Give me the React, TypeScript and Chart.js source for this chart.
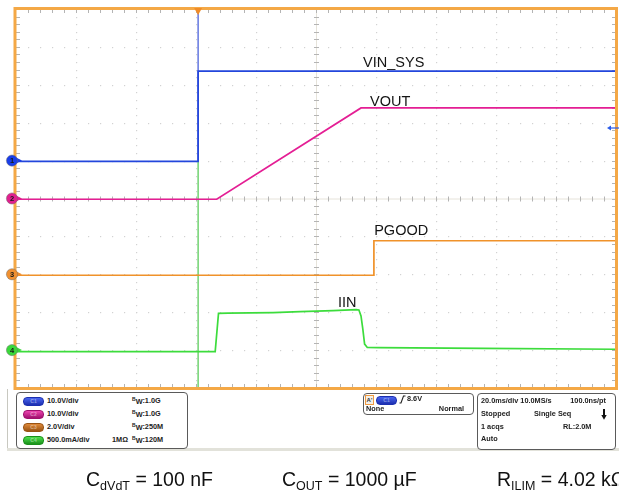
import React, { useEffect, useRef } from 'react';
import { Chart, registerables } from 'chart.js';

Chart.register(...registerables);

// ---- time base: 20 ms/div, 10 divisions, trigger ~3 div from left ----
const T_MIN = -60.7; // ms
const T_MAX = 139.3; // ms
const Y_MIN = -5; // divisions
const Y_MAX = 5;

// ---- channel settings (V/div or A/div, ground offset in divisions) ----
const channelScale = [10, 10, 2, 0.5];
const channelOffset = [1, 0, -2, -4];
const channelColor = ['#2346dc', '#e41e94', '#f0922a', '#3cdc3c'];
const markerColor = ['#1a3ee8', '#e0208e', '#f09030', '#3ad83a'];

// ---- CH1 VIN_SYS (V) ----
const vinSysT = [-60.7, -30, 0, 0, 60, 139.3];
const vinSysV = [-0.2, -0.2, -0.2, 23.6, 23.6, 23.6];

// ---- CH2 VOUT (V) ----
const voutT = [-60.7, 6.2, 54.3, 139.3];
const voutV = [-0.2, -0.2, 23.9, 23.9];

// ---- CH3 PGOOD (V) ----
const pgoodT = [-60.7, 58.6, 58.6, 139.3];
const pgoodV = [-0.05, -0.05, 1.77, 1.77];

// ---- CH4 IIN (A) ----
const iinT = [-60.7, 5.7, 6.8, 10, 25, 34, 45, 52.7, 53.6, 54.3, 54.9, 55.5, 56.4, 60, 95, 139.3];
const iinA = [-0.021, -0.021, 0.485, 0.488, 0.495, 0.507, 0.522, 0.535, 0.53, 0.45, 0.28, 0.08, 0.035, 0.032, 0.024, 0.011];

// trigger: C1 rising, 8.6 V, at t = 0
const triggerTime = 0;
const triggerLevel = 8.6;

// trace labels
const traceLabels = ['VIN_SYS', 'VOUT', 'PGOOD', 'IIN'];
const labelOpts = {
  t: [55, 57.3, 58.7, 46.6],
  yDiv: [3.478, 2.44, -0.976, -2.856],
};

const toDiv = (v: number, ch: number) => v / channelScale[ch] + channelOffset[ch];

const series = [
  { t: vinSysT, v: vinSysV, ch: 0 },
  { t: voutT, v: voutV, ch: 1 },
  { t: pgoodT, v: pgoodV, ch: 2 },
  { t: iinT, v: iinA, ch: 3 },
];

const scopePlugin = {
  id: 'scope',
  beforeDatasetsDraw(chart: any) {
    const { ctx, chartArea: a } = chart;
    const dx = (a.right - a.left) / 10;
    const dy = (a.bottom - a.top) / 10;
    ctx.save();
    // dotted graticule
    ctx.fillStyle = '#d2d2d2';
    for (let i = 1; i < 10; i++) {
      const y = a.top + i * dy;
      for (let j = 1; j < 50; j++) {
        const x = a.left + (j * dx) / 5;
        ctx.fillRect(Math.round(x), Math.round(y), 1.2, 1.2);
      }
      const x = a.left + i * dx;
      for (let j = 1; j < 50; j++) {
        const yy = a.top + (j * dy) / 5;
        ctx.fillRect(Math.round(x), Math.round(yy), 1.2, 1.2);
      }
    }
    // center axes with ticks
    const cx = a.left + 5 * dx;
    const cy = a.top + 5 * dy;
    ctx.strokeStyle = '#e6e3da';
    ctx.lineWidth = 1;
    ctx.beginPath();
    ctx.moveTo(a.left, cy + 0.5);
    ctx.lineTo(a.right, cy + 0.5);
    ctx.moveTo(cx + 0.5, a.top);
    ctx.lineTo(cx + 0.5, a.bottom);
    ctx.stroke();
    ctx.strokeStyle = '#b4b4b4';
    ctx.beginPath();
    for (let j = 1; j < 50; j++) {
      const x = Math.round(a.left + (j * dx) / 5) + 0.5;
      ctx.moveTo(x, cy - 2);
      ctx.lineTo(x, cy + 3);
      ctx.moveTo(x, a.top);
      ctx.lineTo(x, a.top + 4);
      ctx.moveTo(x, a.bottom - 4);
      ctx.lineTo(x, a.bottom);
    }
    for (let j = 1; j < 50; j++) {
      const y = Math.round(a.top + (j * dy) / 5) + 0.5;
      ctx.moveTo(cx - 2, y);
      ctx.lineTo(cx + 3, y);
      ctx.moveTo(a.left, y);
      ctx.lineTo(a.left + 4, y);
      ctx.moveTo(a.right - 4, y);
      ctx.lineTo(a.right, y);
    }
    ctx.stroke();
    ctx.restore();
  },
  afterDatasetsDraw(chart: any) {
    const { ctx, chartArea: a, scales } = chart;
    const xs = scales.x;
    const ys = scales.y;
    ctx.save();
    // orange frame
    ctx.strokeStyle = '#f4a846';
    ctx.lineWidth = 3;
    ctx.strokeRect(a.left - 1, a.top - 0.5, a.right - a.left + 1.5, a.bottom - a.top + 1);

    // trigger position marker
    const tx = xs.getPixelForValue(triggerTime);
    ctx.fillStyle = '#f08c28';
    ctx.beginPath();
    ctx.moveTo(tx - 4, a.top - 1);
    ctx.lineTo(tx + 4, a.top - 1);
    ctx.lineTo(tx, a.top + 6);
    ctx.closePath();
    ctx.fill();

    // trigger level marker (right side)
    const ty = ys.getPixelForValue(toDiv(triggerLevel, 0));
    ctx.strokeStyle = '#2a5ae8';
    ctx.fillStyle = '#2a5ae8';
    ctx.lineWidth = 1.2;
    ctx.beginPath();
    ctx.moveTo(a.right - 7, ty);
    ctx.lineTo(a.right + 3, ty);
    ctx.stroke();
    ctx.beginPath();
    ctx.moveTo(a.right - 9, ty);
    ctx.lineTo(a.right - 5, ty - 2.5);
    ctx.lineTo(a.right - 5, ty + 2.5);
    ctx.closePath();
    ctx.fill();

    // channel ground markers
    for (let c = 0; c < 4; c++) {
      const y = ys.getPixelForValue(channelOffset[c]);
      const x = a.left - 4;
      ctx.fillStyle = markerColor[c];
      ctx.beginPath();
      ctx.moveTo(x + 4, y - 3);
      ctx.lineTo(x + 10, y);
      ctx.lineTo(x + 4, y + 3);
      ctx.closePath();
      ctx.fill();
      ctx.beginPath();
      ctx.arc(x, y, 5.6, 0, Math.PI * 2);
      ctx.fill();
      ctx.strokeStyle = 'rgba(110,110,110,0.6)';
      ctx.lineWidth = 0.8;
      ctx.stroke();
      ctx.fillStyle = '#1a1a1a';
      ctx.font = 'bold 7.5px "Liberation Sans", Arial, sans-serif';
      ctx.textAlign = 'center';
      ctx.textBaseline = 'middle';
      ctx.fillText(String(c + 1), x, y + 0.5);
    }

    // trace labels
    ctx.fillStyle = '#141414';
    ctx.font = '14.5px "Liberation Sans", Arial, sans-serif';
    ctx.textAlign = 'left';
    ctx.textBaseline = 'alphabetic';
    traceLabels.forEach((s, i) => {
      ctx.fillText(s, xs.getPixelForValue(labelOpts.t[i]), ys.getPixelForValue(labelOpts.yDiv[i]));
    });
    ctx.restore();
  },
};

const FONT = '"Liberation Sans", Arial, sans-serif';

const Txt = ({ x, yc, right, children, size = 7.3 }: any) => (
  <div
    style={{
      position: 'absolute',
      left: right === undefined ? x : undefined,
      right: right !== undefined ? 619 - right : undefined,
      top: yc - 5,
      lineHeight: '10px',
      fontSize: size,
      fontWeight: 'bold',
      color: '#222',
      whiteSpace: 'nowrap',
      fontFamily: FONT,
    }}
  >
    {children}
  </div>
);

const Badge = ({ x, yc, label, color, dark }: any) => (
  <div
    style={{
      position: 'absolute',
      left: x,
      top: yc - 4,
      width: 19,
      height: 7,
      borderRadius: 4,
      border: `1px solid ${dark}`,
      background: `linear-gradient(${color}, ${dark})`,
      color: 'rgba(255,255,255,0.45)',
      fontSize: 5,
      lineHeight: '7px',
      fontWeight: 'bold',
      textAlign: 'center',
      fontFamily: FONT,
    }}
  >
    {label}
  </div>
);

const BW = ({ x, yc, v }: any) => (
  <Txt x={x} yc={yc}>
    <span style={{ fontSize: 5, position: 'relative', top: -2 }}>B</span>
    <span style={{ position: 'relative', top: 1 }}>W</span>:{v}
  </Txt>
);

const chanRows = [
  { label: 'C1', color: '#4a66f0', dark: '#1c2fb0', scale: '10.0V/div', bw: '1.0G', imp: '' },
  { label: 'C2', color: '#ee44b0', dark: '#a0106e', scale: '10.0V/div', bw: '1.0G', imp: '' },
  { label: 'C3', color: '#e08a3a', dark: '#9a5414', scale: '2.0V/div', bw: '250M', imp: '' },
  { label: 'C4', color: '#4ee04e', dark: '#1a901a', scale: '500.0mA/div', bw: '120M', imp: '1MΩ' },
];

const Sub = ({ children }: any) => (
  <span style={{ fontSize: 12.5, position: 'relative', top: 4 }}>{children}</span>
);

const captions = [
  { main: 'C', sub: 'dVdT', rest: ' = 100 nF' },
  { main: 'C', sub: 'OUT', rest: ' = 1000 µF' },
  { main: 'R', sub: 'ILIM', rest: ' = 4.02 kΩ' },
];
const captionX = [86, 282, 497];

export default function App() {
  const ref = useRef<HTMLCanvasElement>(null);
  useEffect(() => {
    if (!ref.current) return;
    const datasets: any[] = series.map((s, i) => ({
      data: s.t.map((t, k) => ({ x: t, y: toDiv(s.v[k], s.ch) })),
      showLine: true,
      borderColor: channelColor[s.ch],
      borderWidth: 1.7,
      pointRadius: 0,
      order: i,
    }));
    datasets.push({
      data: [
        { x: triggerTime, y: Y_MIN },
        { x: triggerTime, y: channelOffset[0] },
      ],
      showLine: true,
      borderColor: '#4cc84c',
      borderWidth: 1.2,
      pointRadius: 0,
      order: 20,
    });
    datasets.push({
      data: [
        { x: triggerTime, y: channelOffset[0] },
        { x: triggerTime, y: Y_MAX },
      ],
      showLine: true,
      borderColor: '#3d55d8',
      borderWidth: 1.2,
      pointRadius: 0,
      order: 19,
    });
    const chart = new Chart(ref.current, {
      type: 'scatter',
      data: { datasets },
      options: {
        responsive: false,
        animation: false,
        devicePixelRatio: 1,
        layout: { padding: { left: 16, top: 9, right: 3, bottom: 112 } },
        plugins: { legend: { display: false }, tooltip: { enabled: false } },
        scales: {
          x: { type: 'linear', min: T_MIN, max: T_MAX, display: false },
          y: { type: 'linear', min: Y_MIN, max: Y_MAX, display: false },
        },
      },
      plugins: [scopePlugin],
    } as any);
    return () => chart.destroy();
  }, []);

  const rowY = [401, 414, 427, 440];

  return (
    <div
      style={{
        position: 'fixed',
        left: 0,
        top: 0,
        width: 619,
        height: 500,
        overflow: 'hidden',
        background: '#fff',
        fontFamily: FONT,
      }}
    >
      <canvas ref={ref} width={619} height={500} style={{ position: 'absolute', left: 0, top: 0 }} />

      {/* info panel frame */}
      <div style={{ position: 'absolute', left: 7, top: 389, width: 1, height: 62, background: '#c8c8c0' }} />
      <div style={{ position: 'absolute', left: 7, top: 448, width: 612, height: 3, background: '#e2e2da' }} />

      {/* channel box */}
      <div
        style={{
          position: 'absolute',
          left: 16,
          top: 392,
          width: 170,
          height: 55,
          border: '1px solid #5a5a5a',
          borderRadius: 4,
          background: '#fff',
        }}
      />
      {chanRows.map((r, i) => (
        <React.Fragment key={r.label}>
          <Badge x={23} yc={rowY[i]} label={r.label} color={r.color} dark={r.dark} />
          <Txt x={47} yc={rowY[i]}>{r.scale}</Txt>
          {r.imp ? <Txt x={112} yc={rowY[i]}>{r.imp}</Txt> : null}
          <BW x={132} yc={rowY[i]} v={r.bw} />
        </React.Fragment>
      ))}

      {/* trigger box */}
      <div
        style={{
          position: 'absolute',
          left: 363,
          top: 393,
          width: 109,
          height: 20,
          border: '1px solid #5a5a5a',
          borderRadius: 4,
          background: '#fff',
        }}
      />
      <div
        style={{
          position: 'absolute',
          left: 365,
          top: 395,
          width: 7,
          height: 8,
          border: '1px solid #f09a40',
          background: '#f4f0e8',
          fontSize: 6,
          lineHeight: '8px',
          fontWeight: 'bold',
          color: '#333',
          textAlign: 'center',
          fontFamily: FONT,
        }}
      >
        A'
      </div>
      <Badge x={376} yc={399.5} label="C1" color="#4a66f0" dark="#1c2fb0" />
      <svg style={{ position: 'absolute', left: 399, top: 395 }} width={7} height={9}>
        <path d="M0.5 8 L2 8 L4.5 1 L6.5 1" stroke="#222" strokeWidth={1.1} fill="none" />
      </svg>
      <Txt x={407} yc={399}>8.6V</Txt>
      <Txt x={366} yc={408.5}>None</Txt>
      <Txt right={464} yc={408.5}>Normal</Txt>

      {/* timebase box */}
      <div
        style={{
          position: 'absolute',
          left: 477,
          top: 393,
          width: 137,
          height: 55,
          border: '1px solid #5a5a5a',
          borderRadius: 4,
          background: '#fff',
        }}
      />
      <Txt x={481} yc={401}>20.0ms/div 10.0MS/s</Txt>
      <Txt right={606} yc={401}>100.0ns/pt</Txt>
      <Txt x={481} yc={414}>Stopped</Txt>
      <Txt x={534} yc={414}>Single Seq</Txt>
      <svg style={{ position: 'absolute', left: 601, top: 409 }} width={6} height={11}>
        <path d="M3 0 L3 7" stroke="#111" strokeWidth={2} />
        <path d="M0.3 6 L5.7 6 L3 10.8 Z" fill="#111" />
      </svg>
      <Txt x={481} yc={427}>1 acqs</Txt>
      <Txt x={563} yc={427}>RL:2.0M</Txt>
      <Txt x={481} yc={439}>Auto</Txt>

      {/* caption */}
      {captions.map((c, i) => (
        <div
          key={i}
          style={{
            position: 'absolute',
            left: captionX[i],
            top: 469,
            fontSize: 19.5,
            lineHeight: '20px',
            color: '#111',
            whiteSpace: 'nowrap',
            fontFamily: FONT,
          }}
        >
          {c.main}
          <Sub>{c.sub}</Sub>
          {c.rest}
        </div>
      ))}
    </div>
  );
}
